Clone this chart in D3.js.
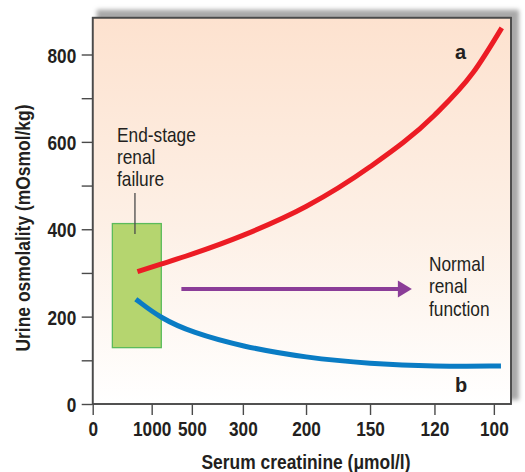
<!DOCTYPE html>
<html><head><meta charset="utf-8">
<script src="https://cdn.jsdelivr.net/npm/d3@7"></script>
<style>
html,body{margin:0;padding:0;background:#fff;}
svg{display:block;}
text{font-family:"Liberation Sans",Arial,sans-serif;fill:#231f20;}
</style></head>
<body>
<script>
// ---- data ----
const xTickLabels = ["0","1000","500","300","200","150","120","100"];
const xTickPos = [0, 14.1, 23.7, 35.9, 51.0, 66.3, 81.7, 95.9]; // axis position units (0-100)
const yTickValues = [0, 200, 400, 600, 800];
const yMinorTicks = [100, 300, 500, 700];
// curve a (red)
const aX = [10.7, 16.3, 23.7, 35.9, 51.0, 66.3, 81.7, 90.9, 97.8];
const aY = [303, 320, 343, 386, 452, 543, 661, 758, 861];
// curve b (blue)
const bX = [10.3, 16.3, 23.7, 35.9, 51.0, 66.3, 81.7, 97.6];
const bY = [240, 196, 164, 131, 106, 92, 86, 87];
// end-stage renal failure box
const boxX = [4.7, 16.4];
const boxY = [129, 413];
const leaderX = 10.1, leaderY = [389, 483];
// arrow
const arrowX = [21.2, 76.3], arrowY = 263;

const W = 525, H = 472;
const m = {l: 92.7, t: 17.7, r: 14, b: 68};
const pw = W - m.l - m.r, ph = H - m.t - m.b;
const SX = 0.82; // horizontal condensing of tick text

const svg = d3.select("body").append("svg").attr("width", W).attr("height", H);
const defs = svg.append("defs");
const bg = defs.append("linearGradient").attr("id","bg").attr("x1",0).attr("y1",0).attr("x2",0).attr("y2",1);
bg.append("stop").attr("offset","0%").attr("stop-color","#fde2cf");
bg.append("stop").attr("offset","55%").attr("stop-color","#fdf0e6");
bg.append("stop").attr("offset","100%").attr("stop-color","#ffffff");
const f = defs.append("filter").attr("id","blur").attr("x","-10%").attr("y","-10%").attr("width","120%").attr("height","120%");
f.append("feGaussianBlur").attr("stdDeviation",2.2);

const x = d3.scaleLinear().domain([0,100]).range([m.l, m.l + pw]);
const y = d3.scaleLinear().domain([0,800]).range([404, 54.5]);

// shadow
svg.append("rect").attr("x", m.l + 4).attr("y", m.t - 8).attr("width", pw + 4).attr("height", ph + 4)
  .attr("fill","#a9a9a9").attr("filter","url(#blur)");
// plot background
svg.append("rect").attr("x", m.l).attr("y", m.t).attr("width", pw).attr("height", ph)
  .attr("fill","url(#bg)").attr("stroke","#4a4a4a").attr("stroke-width",1.6);

// box
svg.append("rect").attr("x", x(boxX[0])).attr("y", y(boxY[1]))
  .attr("width", x(boxX[1]) - x(boxX[0])).attr("height", y(boxY[0]) - y(boxY[1]))
  .attr("fill","#b5d56f").attr("stroke","#5bbb5b").attr("stroke-width",1.3);
svg.append("line").attr("x1", x(leaderX)).attr("x2", x(leaderX))
  .attr("y1", y(leaderY[0])).attr("y2", y(leaderY[1])).attr("stroke","#4a4a4a").attr("stroke-width",1.3);

// curves
const lineA = d3.line().x(d => x(d[0])).y(d => y(d[1])).curve(d3.curveMonotoneX);
const lineB = d3.line().x(d => x(d[0])).y(d => y(d[1])).curve(d3.curveBasis);
svg.append("path").datum(aX.map((v,i)=>[v,aY[i]])).attr("d", lineA)
  .attr("fill","none").attr("stroke","#ec1c24").attr("stroke-width",5);
svg.append("path").datum(bX.map((v,i)=>[v,bY[i]])).attr("d", lineB)
  .attr("fill","none").attr("stroke","#0a7cc4").attr("stroke-width",5);

// arrow
const ax0 = x(arrowX[0]), ax1 = x(arrowX[1]), ay = y(arrowY);
svg.append("line").attr("x1", ax0).attr("x2", ax1 - 12).attr("y1", ay).attr("y2", ay)
  .attr("stroke","#8b3d98").attr("stroke-width",4);
svg.append("path").attr("d", `M${ax1-14},${ay-8.5}L${ax1},${ay}L${ax1-14},${ay+8.5}Z`).attr("fill","#8b3d98");

// axes
const yAxis = d3.axisLeft(y).tickValues(yTickValues).tickSize(11).tickPadding(5).tickFormat(d3.format("d"));
const gy = svg.append("g").attr("transform", `translate(${m.l},0)`).call(yAxis);
gy.select(".domain").remove();
gy.selectAll(".tick line").attr("stroke","#4a4a4a").attr("stroke-width",1.4);
gy.selectAll(".tick text").attr("font-size",21).attr("font-weight","bold")
  .style("font-family",'"Liberation Sans",Arial,sans-serif').attr("fill","#231f20").attr("dy","0.36em")
  .attr("x", -16.5 / SX).attr("transform", `scale(${SX},1)`);
const gym = svg.append("g").attr("transform", `translate(${m.l},0)`)
  .call(d3.axisLeft(y).tickValues(yMinorTicks).tickSize(11).tickFormat(""));
gym.select(".domain").remove();
gym.selectAll(".tick line").attr("stroke","#4a4a4a").attr("stroke-width",1.4);

const xAxis = d3.axisBottom(x).tickValues(xTickPos).tickSize(11).tickPadding(6)
  .tickFormat((d,i) => xTickLabels[i]);
const gx = svg.append("g").attr("transform", `translate(0,${m.t + ph})`).call(xAxis);
gx.select(".domain").remove();
gx.selectAll(".tick line").attr("stroke","#4a4a4a").attr("stroke-width",1.4);
gx.selectAll(".tick text").attr("font-size",21).attr("font-weight","bold")
  .style("font-family",'"Liberation Sans",Arial,sans-serif').attr("fill","#231f20")
  .attr("transform", `scale(${SX},1)`);

// redraw frame lines on top
svg.append("rect").attr("x", m.l).attr("y", m.t).attr("width", pw).attr("height", ph)
  .attr("fill","none").attr("stroke","#4a4a4a").attr("stroke-width",1.6);

// axis titles
svg.append("text").attr("x", 306).attr("y", 469).attr("text-anchor","middle")
  .attr("font-size",20).attr("font-weight","bold")
  .attr("textLength", 209).attr("lengthAdjust","spacingAndGlyphs").text("Serum creatinine (\u03bcmol/l)");
svg.append("text").attr("transform","translate(30,228) rotate(-90)").attr("text-anchor","middle")
  .attr("font-size",20).attr("font-weight","bold")
  .attr("textLength", 247).attr("lengthAdjust","spacingAndGlyphs").text("Urine osmolality (mOsmol/kg)");

// annotations
const t1 = svg.append("g").attr("transform", `translate(117,0) scale(0.865,1)`).append("text").attr("font-size",20);
["End-stage","renal","failure"].forEach((s,i)=> t1.append("tspan").attr("x",0).attr("y",141.7 + i*22.2).text(s));
const t2 = svg.append("g").attr("transform", `translate(429,0) scale(0.865,1)`).append("text").attr("font-size",20);
["Normal","renal","function"].forEach((s,i)=> t2.append("tspan").attr("x",0).attr("y",270.7 + i*22.5).text(s));
svg.append("text").attr("x", x(86.6)).attr("y", y(789)).attr("font-size",20).attr("font-weight","bold").text("a");
svg.append("text").attr("x", x(86.6)).attr("y", y(28)).attr("font-size",20).attr("font-weight","bold").text("b");
</script>
</body></html>
